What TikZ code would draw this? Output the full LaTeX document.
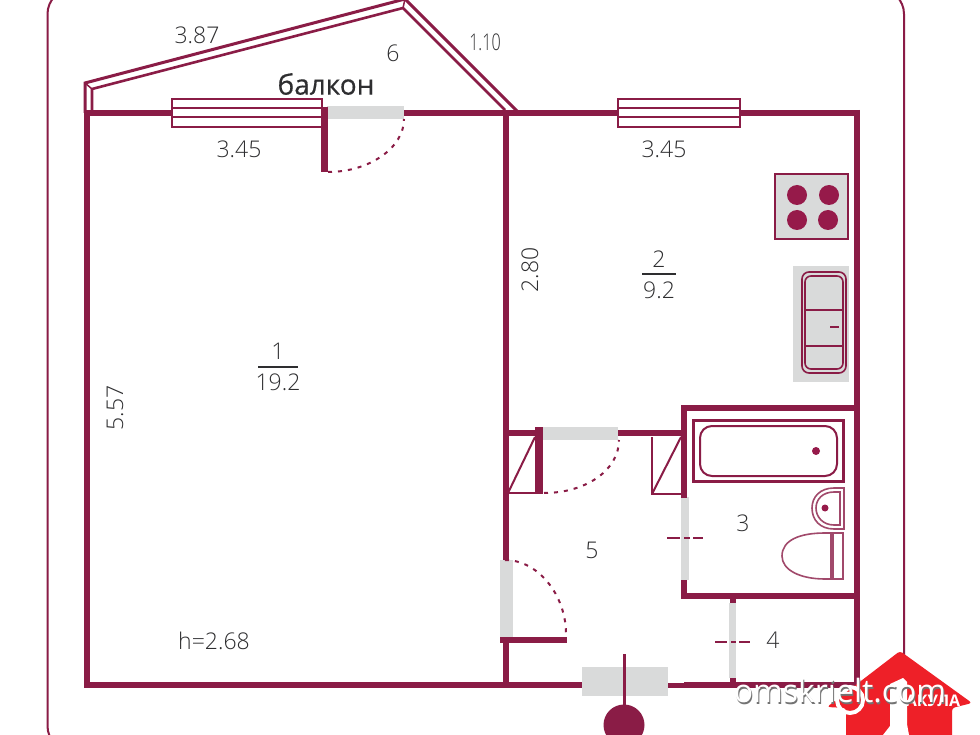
\documentclass[tikz,border=0pt]{standalone}
\usepackage{fontspec}
\setmainfont{Open Sans}
\newfontfamily\lightfont{Open Sans Light}
\definecolor{wine}{HTML}{8A1C46}
\definecolor{burner}{HTML}{961A4A}
\definecolor{door}{HTML}{D9DADA}
\definecolor{ink}{HTML}{2E2E30}
\definecolor{logored}{HTML}{EE2028}
\newcommand{\sz}[1]{\fontsize{#1}{#1}\selectfont}

\begin{document}
\begin{tikzpicture}[x=1pt,y=-1pt,line cap=butt]
          \tikzstyle{wall}=[draw=wine,line width=6pt]
          \tikzstyle{thin}=[draw=wine,line width=3pt]
          \tikzstyle{fixture}=[draw=wine,line width=1.6pt]
          \tikzstyle{opening}=[fill=door,draw=none]
          \tikzstyle{swing}=[draw=wine,line width=2pt,dash pattern=on 4pt off 6pt]
          \tikzstyle{label}=[text=ink,inner sep=0pt,font=\lightfont\sz{23}]
          \clip (0,0) rectangle (980,735);
          \fill[white] (0,0) rectangle (980,735);

          % frame
          \draw[wine,line width=2pt,rounded corners=25pt] (47.5,-11) rectangle (904,751);

          % balcony
          \draw[thin] (85,113) -- (85,83) -- (405,-1) -- (518,112);
          \draw[thin,line width=2.6pt] (92,113) -- (92,89) -- (403,8) -- (505,110);
          \draw[wine,line width=1.5pt] (85,83) -- (92,89);
          \draw[wine,line width=1.5pt] (405,-1) -- (403,8);

          % openings
          \fill[opening] (327,106) rectangle (404,119);
          \fill[opening] (543,427) rectangle (618,440);
          \fill[opening] (500,560) rectangle (513,637);
          \fill[opening] (681,497) rectangle (689,580);
          \fill[opening] (729,603) rectangle (736,678);
          \fill[opening] (582,667) rectangle (668,696);

          % walls
          \draw[wall] (87,113) -- (172,113);
          \draw[wall] (404,113) -- (618,113);
          \draw[wall] (740,113) -- (860,113);
          \draw[wall] (87,110) -- (87,687);
          \draw[wall] (84,684.5) -- (582,684.5);
          \draw[wall] (857,110) -- (857,687);
          \draw[wall] (506,113) -- (506,560);
          \draw[wall] (506,640) -- (506,684);
          \draw[wall] (506,433) -- (536,433);
          \draw[wall] (618,433) -- (684,433);
          \draw[wall] (684,405) -- (684,498);
          \draw[wall] (684,580) -- (684,599);
          \draw[wall] (681,408) -- (857,408);
          \draw[wall] (681,596) -- (857,596);
          \draw[wall] (500,640) -- (567,640);
          \draw[wall,line width=5pt] (668,685) -- (684,685);
          \draw[wall] (684,685) -- (857,685);
          \draw[wall] (732.5,598) -- (732.5,603);
          \draw[wall] (732.5,678) -- (732.5,685);
          \draw[wall,line width=7pt] (324.5,107) -- (324.5,172);
          \draw[wall,line width=8pt] (539,427) -- (539,494);

          % windows
          \draw[fixture,fill=white,line width=2pt] (172,99) rectangle (322,127);
          \draw[wine,line width=2pt] (172,108.5) -- (322,108.5);
          \draw[wine,line width=2pt] (172,117.5) -- (322,117.5);
          \draw[fixture,fill=white,line width=2pt] (618,99) rectangle (740,127);
          \draw[wine,line width=2pt] (618,108.5) -- (740,108.5);
          \draw[wine,line width=2pt] (618,117.5) -- (740,117.5);
          \draw[wall,line width=7pt] (324.5,107) -- (324.5,130);

          % door swings
          \draw[swing] (328,172) .. controls (369,172) and (404,148) .. (404,119);
          \draw[swing] (544,493) .. controls (586,493) and (619,470) .. (619,440);
          \draw[swing] (505,560) .. controls (538,560) and (566,595) .. (566,634);

          % closets
          \draw[fixture,line width=2pt] (508,493) -- (536,493);
          \draw[fixture,line width=2pt] (508,493) -- (535,437);
          \draw[fixture,line width=2pt] (652,437) -- (652,494) -- (682,494);
          \draw[fixture,line width=2pt] (652,494) -- (681,437);

          % stove
          \draw[fixture,fill=door,line width=2pt] (775,174) rectangle (848,239);
          \fill[burner] (797,195) circle (10pt) (829,195) circle (10pt)
                        (797,220) circle (10pt) (828,220) circle (10pt);

          % kitchen sink
          \fill[opening] (793,266) rectangle (849,382);
          \draw[fixture,rounded corners=7pt] (802,272) rectangle (846,373);
          \draw[fixture,rounded corners=6pt] (805,276) rectangle (843,369);
          \draw[fixture,line width=2pt] (804,310) -- (843,310);
          \draw[fixture,line width=2pt] (804,346) -- (843,346);
          \draw[fixture,line width=2.4pt] (830,327) -- (839,327);

          % bath
          \draw[thin] (693,420) rectangle (843,481);
          \draw[fixture,line width=2pt,rounded corners=12pt] (700,426) rectangle (837,476);
          \fill[burner] (816,451) circle (4pt);

          % wash basin
          \draw[fixture,wine!80] (844,488) -- (834,488) .. controls (820,488) and (812,497) .. (812,508)
                .. controls (812,520) and (820,529) .. (834,529) -- (844,529) -- cycle;
          \draw[fixture,wine!80] (840,492) -- (834,492) .. controls (823,492) and (816,499) .. (816,508)
                .. controls (816,517) and (823,525) .. (834,525) -- (840,525) -- cycle;
          \fill[burner] (825,508) circle (3.5pt);

          % toilet
          \draw[fixture,wine!80] (833,533) rectangle (843,579);
          \draw[fixture,wine!80] (831,533) -- (825,533) .. controls (800,533) and (782,540) .. (782,556)
                .. controls (782,570) and (800,579) .. (825,579) -- (831,579) -- cycle;

          % door marks
          \draw[wine,line width=2.4pt] (667,538) -- (680,538) (684,538) -- (690,538) (693,538) -- (703,538);
          \draw[wine,line width=2.4pt] (715,642) -- (727,642) (731,642) -- (736,642) (739,642) -- (750,642);

          % entrance
          \draw[wine,line width=3pt] (624.5,654) -- (624.5,710);
          \fill[wine] (624,725) circle (20.5pt);

          % labels
          \node[label] (len387) at (197,35) {3.87};
          \node[label] (num6) at (393,53) {6};
          \node[label,xscale=.7] (len110) at (485,42) {1.10};
          \node[text=ink,inner sep=0pt,font=\sz{28}\addfontfeature{FakeBold=0.5}] (balcony) at (326,84) {балкон};
          \node[label] (len345a) at (239,149) {3.45};
          \node[label] (len345b) at (664,149) {3.45};
          \node[label,rotate=90] (len280) at (530,270) {2.80};
          \node[label,rotate=90] (len557) at (115,408) {5.57};
          \node[label] (num2) at (659,259) {2};
          \node[label] (area2) at (659,290) {9.2};
          \draw[ink,line width=2pt] (642,274) -- (676,274);
          \node[label] (num1) at (278,351) {1};
          \node[label] (area1) at (278,382) {19.2};
          \draw[ink,line width=2pt] (258,367) -- (298,367);
          \node[label] (height) at (214,641) {h=2.68};
          \node[label] (num5) at (592,550) {5};
          \node[label] (num3) at (743,523) {3};
          \node[label] (num4) at (773,640) {4};

          % logo
          \fill[logored,rounded corners=3pt] (900,651) -- (972,703) -- (952,708) -- (952,740) -- (846,740)
                -- (846,708) -- (827,707) -- cycle;
          \fill[white] (890,684) -- (903,678) -- (907,682) -- (907,724) -- (909,735) -- (883,735) -- (890,726) -- cycle;
          \draw[white,line width=4pt] (850,700) circle (13pt);
          \node[text=white,inner sep=0pt,font=\bfseries\sz{16}] (sharkname) at (933,701) {АКУЛА};
          \node[text=black!55,inner sep=0pt,font=\sz{32}] (siteshadow) at (841,692.5) {omskrielt.com};
          \node[text=white,inner sep=0pt,font=\sz{32}] (site) at (840,691) {omskrielt.com};
\end{tikzpicture}
\end{document}
